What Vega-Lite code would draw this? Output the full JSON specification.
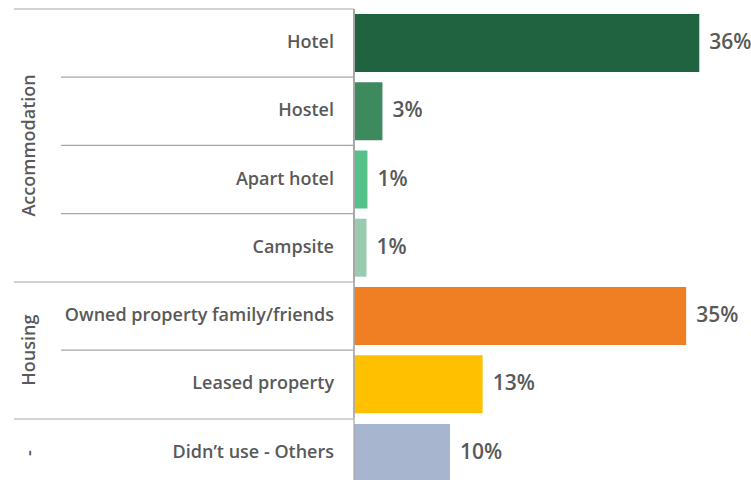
{
  "$schema": "https://vega.github.io/schema/vega-lite/v6.json",
  "padding": {"left": 13, "top": 8, "right": 0, "bottom": 0},
  "background": "white",
  "bounds": "flush",
  "config": {"view": {"stroke": null}, "concat": {"spacing": 0}},
  "spacing": 0,
  "data": {"values": [
    {"group": "Accommodation", "item": "Hotel", "share": 0.3597},
    {"group": "Accommodation", "item": "Hostel", "share": 0.0296},
    {"group": "Accommodation", "item": "Apart hotel", "share": 0.014},
    {"group": "Accommodation", "item": "Campsite", "share": 0.013},
    {"group": "Housing", "item": "Owned property family/friends", "share": 0.346},
    {"group": "Housing", "item": "Leased property", "share": 0.134},
    {"group": "-", "item": "Didn’t use - Others", "share": 0.100}
  ]},
  "vconcat": [
    {
      "width": 738, "height": 272.8,
      "transform": [{"filter": "datum.group == 'Accommodation'"}, {"window": [{"op": "row_number", "as": "rank"}]}],
      "layer": [
        {"mark": {"type": "bar", "height": {"band": 0.85}},
         "encoding": {
           "y": {"field": "item", "type": "nominal", "sort": null, "axis": null, "scale": {"paddingInner": 0, "paddingOuter": 0}},
           "x": {"field": "share", "type": "quantitative", "axis": null, "scale": {"domain": [-0.3542, 0.4146], "nice": false, "zero": false}},
           "x2": {"datum": 0},
           "color": {"field": "item", "type": "nominal", "legend": null, "scale": {"domain": ["Hotel", "Hostel", "Apart hotel", "Campsite", "Owned property family/friends", "Leased property", "Didn’t use - Others"], "range": ["#1f6340", "#3e8a5f", "#56c08a", "#9acbb0", "#ef7f22", "#ffc000", "#a8b5cf"]}}
         }},
        {"mark": {"type": "text", "align": "left", "baseline": "middle", "dx": 10, "font": "Open Sans", "fontSize": 21, "fontWeight": 600, "color": "#595959"},
         "encoding": {
           "y": {"field": "item", "type": "nominal", "sort": null},
           "x": {"field": "share", "type": "quantitative"},
           "text": {"field": "share", "type": "quantitative", "format": ".0%"}
         }},
        {"mark": {"type": "text", "align": "right", "baseline": "middle", "dx": -20, "font": "Open Sans", "fontSize": 18, "fontWeight": 600, "color": "#595959"},
         "encoding": {
           "y": {"field": "item", "type": "nominal", "sort": null},
           "x": {"datum": 0},
           "text": {"field": "item"}
         }},
        {"transform": [{"filter": "datum.rank > 1"}],
         "mark": {"type": "rule", "color": "#a6a6a6", "strokeWidth": 1.2},
         "encoding": {
           "y": {"field": "item", "type": "nominal", "sort": null, "bandPosition": 0},
           "x": {"datum": -0.3052}, "x2": {"datum": 0}
         }},
        {"transform": [{"filter": "datum.rank == 1"}],
         "mark": {"type": "rule", "color": "#a6a6a6", "strokeWidth": 1.2},
         "encoding": {
           "y": {"field": "item", "type": "nominal", "sort": null, "bandPosition": 0},
           "x": {"datum": -0.3542}, "x2": {"datum": 0}
         }},
        {"mark": {"type": "rule", "color": "#a6a6a6", "strokeWidth": 1.2},
         "encoding": {"x": {"datum": 0}}},
        {"transform": [{"aggregate": [], "groupby": ["group"]}],
         "mark": {"type": "text", "angle": 270, "align": "center", "baseline": "middle", "font": "Open Sans", "fontSize": 18, "fontWeight": 600, "color": "#595959"},
         "encoding": {"x": {"datum": -0.3375}, "text": {"field": "group"}}}
      ]
    },
    {
      "width": 738, "height": 136.4,
      "transform": [{"filter": "datum.group == 'Housing'"}, {"window": [{"op": "row_number", "as": "rank"}]}],
      "layer": [
        {"mark": {"type": "bar", "height": {"band": 0.85}},
         "encoding": {
           "y": {"field": "item", "type": "nominal", "sort": null, "axis": null, "scale": {"paddingInner": 0, "paddingOuter": 0}},
           "x": {"field": "share", "type": "quantitative", "axis": null, "scale": {"domain": [-0.3542, 0.4146], "nice": false, "zero": false}},
           "x2": {"datum": 0},
           "color": {"field": "item", "type": "nominal", "legend": null, "scale": {"domain": ["Hotel", "Hostel", "Apart hotel", "Campsite", "Owned property family/friends", "Leased property", "Didn’t use - Others"], "range": ["#1f6340", "#3e8a5f", "#56c08a", "#9acbb0", "#ef7f22", "#ffc000", "#a8b5cf"]}}
         }},
        {"mark": {"type": "text", "align": "left", "baseline": "middle", "dx": 10, "font": "Open Sans", "fontSize": 21, "fontWeight": 600, "color": "#595959"},
         "encoding": {
           "y": {"field": "item", "type": "nominal", "sort": null},
           "x": {"field": "share", "type": "quantitative"},
           "text": {"field": "share", "type": "quantitative", "format": ".0%"}
         }},
        {"mark": {"type": "text", "align": "right", "baseline": "middle", "dx": -20, "font": "Open Sans", "fontSize": 18, "fontWeight": 600, "color": "#595959"},
         "encoding": {
           "y": {"field": "item", "type": "nominal", "sort": null},
           "x": {"datum": 0},
           "text": {"field": "item"}
         }},
        {"transform": [{"filter": "datum.rank > 1"}],
         "mark": {"type": "rule", "color": "#a6a6a6", "strokeWidth": 1.2},
         "encoding": {
           "y": {"field": "item", "type": "nominal", "sort": null, "bandPosition": 0},
           "x": {"datum": -0.3052}, "x2": {"datum": 0}
         }},
        {"transform": [{"filter": "datum.rank == 1"}],
         "mark": {"type": "rule", "color": "#a6a6a6", "strokeWidth": 1.2},
         "encoding": {
           "y": {"field": "item", "type": "nominal", "sort": null, "bandPosition": 0},
           "x": {"datum": -0.3542}, "x2": {"datum": 0}
         }},
        {"mark": {"type": "rule", "color": "#a6a6a6", "strokeWidth": 1.2},
         "encoding": {"x": {"datum": 0}}},
        {"transform": [{"aggregate": [], "groupby": ["group"]}],
         "mark": {"type": "text", "angle": 270, "align": "center", "baseline": "middle", "font": "Open Sans", "fontSize": 18, "fontWeight": 600, "color": "#595959"},
         "encoding": {"x": {"datum": -0.3375}, "text": {"field": "group"}}}
      ]
    },
    {
      "width": 738, "height": 68.2,
      "transform": [{"filter": "datum.group == '-'"}, {"window": [{"op": "row_number", "as": "rank"}]}],
      "layer": [
        {"mark": {"type": "bar", "height": {"band": 0.85}},
         "encoding": {
           "y": {"field": "item", "type": "nominal", "sort": null, "axis": null, "scale": {"paddingInner": 0, "paddingOuter": 0}},
           "x": {"field": "share", "type": "quantitative", "axis": null, "scale": {"domain": [-0.3542, 0.4146], "nice": false, "zero": false}},
           "x2": {"datum": 0},
           "color": {"field": "item", "type": "nominal", "legend": null, "scale": {"domain": ["Hotel", "Hostel", "Apart hotel", "Campsite", "Owned property family/friends", "Leased property", "Didn’t use - Others"], "range": ["#1f6340", "#3e8a5f", "#56c08a", "#9acbb0", "#ef7f22", "#ffc000", "#a8b5cf"]}}
         }},
        {"mark": {"type": "text", "align": "left", "baseline": "middle", "dx": 10, "font": "Open Sans", "fontSize": 21, "fontWeight": 600, "color": "#595959"},
         "encoding": {
           "y": {"field": "item", "type": "nominal", "sort": null},
           "x": {"field": "share", "type": "quantitative"},
           "text": {"field": "share", "type": "quantitative", "format": ".0%"}
         }},
        {"mark": {"type": "text", "align": "right", "baseline": "middle", "dx": -20, "font": "Open Sans", "fontSize": 18, "fontWeight": 600, "color": "#595959"},
         "encoding": {
           "y": {"field": "item", "type": "nominal", "sort": null},
           "x": {"datum": 0},
           "text": {"field": "item"}
         }},
        {"transform": [{"filter": "datum.rank == 1"}],
         "mark": {"type": "rule", "color": "#a6a6a6", "strokeWidth": 1.2},
         "encoding": {
           "y": {"field": "item", "type": "nominal", "sort": null, "bandPosition": 0},
           "x": {"datum": -0.3542}, "x2": {"datum": 0}
         }},
        {"mark": {"type": "rule", "color": "#a6a6a6", "strokeWidth": 1.2},
         "encoding": {"x": {"datum": 0}}},
        {"transform": [{"aggregate": [], "groupby": ["group"]}],
         "mark": {"type": "text", "angle": 270, "align": "center", "baseline": "middle", "font": "Open Sans", "fontSize": 18, "fontWeight": 600, "color": "#595959"},
         "encoding": {"x": {"datum": -0.3375}, "text": {"field": "group"}}}
      ]
    }
  ]
}
